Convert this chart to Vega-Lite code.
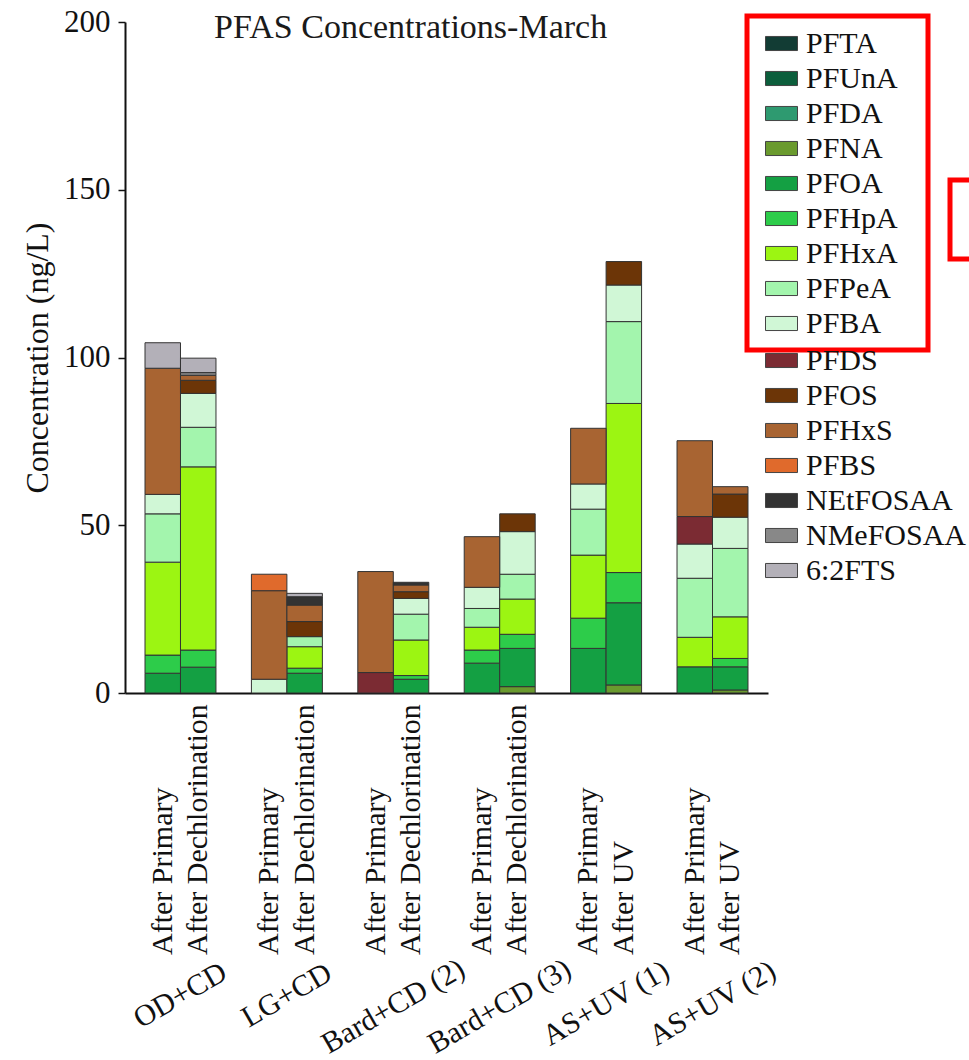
{
  "$schema": "https://vega.github.io/schema/vega-lite/v6.json",
  "autosize": "none",
  "width": 643,
  "height": 671,
  "padding": {"left": 125, "top": 22, "right": 201, "bottom": 367},
  "background": "white",
  "title": {"text": "PFAS Concentrations-March", "frame": "group", "anchor": "start", "dx": 89, "offset": -66, "baseline": "alphabetic", "font": "Liberation Serif", "fontSize": 34, "fontWeight": "normal", "color": "#1a1a1a"},
  "datasets": {
    "species": [
      {"species": "PFTA", "rank": 1, "group": "A"},
      {"species": "PFUnA", "rank": 2, "group": "A"},
      {"species": "PFDA", "rank": 3, "group": "A"},
      {"species": "PFNA", "rank": 4, "group": "A"},
      {"species": "PFOA", "rank": 5, "group": "A"},
      {"species": "PFHpA", "rank": 6, "group": "A"},
      {"species": "PFHxA", "rank": 7, "group": "A"},
      {"species": "PFPeA", "rank": 8, "group": "A"},
      {"species": "PFBA", "rank": 9, "group": "A"},
      {"species": "PFDS", "rank": 10, "group": "B"},
      {"species": "PFOS", "rank": 11, "group": "B"},
      {"species": "PFHxS", "rank": 12, "group": "B"},
      {"species": "PFBS", "rank": 13, "group": "B"},
      {"species": "NEtFOSAA", "rank": 14, "group": "B"},
      {"species": "NMeFOSAA", "rank": 15, "group": "B"},
      {"species": "6:2FTS", "rank": 16, "group": "B"}
    ],
    "stages": [
      {"site": "OD+CD", "phase": "Primary", "stage": "After Primary"},
      {"site": "OD+CD", "phase": "Treated", "stage": "After Dechlorination"},
      {"site": "LG+CD", "phase": "Primary", "stage": "After Primary"},
      {"site": "LG+CD", "phase": "Treated", "stage": "After Dechlorination"},
      {"site": "Bard+CD (2)", "phase": "Primary", "stage": "After Primary"},
      {"site": "Bard+CD (2)", "phase": "Treated", "stage": "After Dechlorination"},
      {"site": "Bard+CD (3)", "phase": "Primary", "stage": "After Primary"},
      {"site": "Bard+CD (3)", "phase": "Treated", "stage": "After Dechlorination"},
      {"site": "AS+UV (1)", "phase": "Primary", "stage": "After Primary"},
      {"site": "AS+UV (1)", "phase": "Treated", "stage": "After UV"},
      {"site": "AS+UV (2)", "phase": "Primary", "stage": "After Primary"},
      {"site": "AS+UV (2)", "phase": "Treated", "stage": "After UV"}
    ],
    "conc": [
      {"site": "OD+CD", "phase": "Primary", "species": "PFOA", "value": 5.9},
      {"site": "OD+CD", "phase": "Primary", "species": "PFHpA", "value": 5.4},
      {"site": "OD+CD", "phase": "Primary", "species": "PFHxA", "value": 27.7},
      {"site": "OD+CD", "phase": "Primary", "species": "PFPeA", "value": 14.4},
      {"site": "OD+CD", "phase": "Primary", "species": "PFBA", "value": 5.8},
      {"site": "OD+CD", "phase": "Primary", "species": "PFHxS", "value": 37.6},
      {"site": "OD+CD", "phase": "Primary", "species": "6:2FTS", "value": 7.6},
      {"site": "OD+CD", "phase": "Treated", "species": "PFOA", "value": 7.7},
      {"site": "OD+CD", "phase": "Treated", "species": "PFHpA", "value": 5.1},
      {"site": "OD+CD", "phase": "Treated", "species": "PFHxA", "value": 54.6},
      {"site": "OD+CD", "phase": "Treated", "species": "PFPeA", "value": 11.8},
      {"site": "OD+CD", "phase": "Treated", "species": "PFBA", "value": 10.1},
      {"site": "OD+CD", "phase": "Treated", "species": "PFOS", "value": 3.9},
      {"site": "OD+CD", "phase": "Treated", "species": "PFHxS", "value": 1.5},
      {"site": "OD+CD", "phase": "Treated", "species": "NMeFOSAA", "value": 0.8},
      {"site": "OD+CD", "phase": "Treated", "species": "6:2FTS", "value": 4.3},
      {"site": "LG+CD", "phase": "Primary", "species": "PFBA", "value": 4.1},
      {"site": "LG+CD", "phase": "Primary", "species": "PFHxS", "value": 26.4},
      {"site": "LG+CD", "phase": "Primary", "species": "PFBS", "value": 4.9},
      {"site": "LG+CD", "phase": "Treated", "species": "PFOA", "value": 5.9},
      {"site": "LG+CD", "phase": "Treated", "species": "PFHpA", "value": 1.5},
      {"site": "LG+CD", "phase": "Treated", "species": "PFHxA", "value": 6.4},
      {"site": "LG+CD", "phase": "Treated", "species": "PFPeA", "value": 3.0},
      {"site": "LG+CD", "phase": "Treated", "species": "PFOS", "value": 4.5},
      {"site": "LG+CD", "phase": "Treated", "species": "PFHxS", "value": 4.9},
      {"site": "LG+CD", "phase": "Treated", "species": "NEtFOSAA", "value": 2.5},
      {"site": "LG+CD", "phase": "Treated", "species": "6:2FTS", "value": 1.0},
      {"site": "Bard+CD (2)", "phase": "Primary", "species": "PFDS", "value": 6.1},
      {"site": "Bard+CD (2)", "phase": "Primary", "species": "PFHxS", "value": 30.1},
      {"site": "Bard+CD (2)", "phase": "Treated", "species": "PFOA", "value": 4.1},
      {"site": "Bard+CD (2)", "phase": "Treated", "species": "PFHpA", "value": 1.1},
      {"site": "Bard+CD (2)", "phase": "Treated", "species": "PFHxA", "value": 10.6},
      {"site": "Bard+CD (2)", "phase": "Treated", "species": "PFPeA", "value": 7.7},
      {"site": "Bard+CD (2)", "phase": "Treated", "species": "PFBA", "value": 4.7},
      {"site": "Bard+CD (2)", "phase": "Treated", "species": "PFOS", "value": 2.0},
      {"site": "Bard+CD (2)", "phase": "Treated", "species": "PFHxS", "value": 2.0},
      {"site": "Bard+CD (2)", "phase": "Treated", "species": "NEtFOSAA", "value": 0.8},
      {"site": "Bard+CD (3)", "phase": "Primary", "species": "PFOA", "value": 8.9},
      {"site": "Bard+CD (3)", "phase": "Primary", "species": "PFHpA", "value": 3.9},
      {"site": "Bard+CD (3)", "phase": "Primary", "species": "PFHxA", "value": 6.8},
      {"site": "Bard+CD (3)", "phase": "Primary", "species": "PFPeA", "value": 5.6},
      {"site": "Bard+CD (3)", "phase": "Primary", "species": "PFBA", "value": 6.3},
      {"site": "Bard+CD (3)", "phase": "Primary", "species": "PFHxS", "value": 15.1},
      {"site": "Bard+CD (3)", "phase": "Treated", "species": "PFNA", "value": 1.9},
      {"site": "Bard+CD (3)", "phase": "Treated", "species": "PFOA", "value": 11.4},
      {"site": "Bard+CD (3)", "phase": "Treated", "species": "PFHpA", "value": 4.2},
      {"site": "Bard+CD (3)", "phase": "Treated", "species": "PFHxA", "value": 10.5},
      {"site": "Bard+CD (3)", "phase": "Treated", "species": "PFPeA", "value": 7.4},
      {"site": "Bard+CD (3)", "phase": "Treated", "species": "PFBA", "value": 12.7},
      {"site": "Bard+CD (3)", "phase": "Treated", "species": "PFOS", "value": 5.3},
      {"site": "AS+UV (1)", "phase": "Primary", "species": "PFOA", "value": 13.3},
      {"site": "AS+UV (1)", "phase": "Primary", "species": "PFHpA", "value": 9.0},
      {"site": "AS+UV (1)", "phase": "Primary", "species": "PFHxA", "value": 18.8},
      {"site": "AS+UV (1)", "phase": "Primary", "species": "PFPeA", "value": 13.7},
      {"site": "AS+UV (1)", "phase": "Primary", "species": "PFBA", "value": 7.5},
      {"site": "AS+UV (1)", "phase": "Primary", "species": "PFHxS", "value": 16.6},
      {"site": "AS+UV (1)", "phase": "Treated", "species": "PFNA", "value": 2.4},
      {"site": "AS+UV (1)", "phase": "Treated", "species": "PFOA", "value": 24.5},
      {"site": "AS+UV (1)", "phase": "Treated", "species": "PFHpA", "value": 9.0},
      {"site": "AS+UV (1)", "phase": "Treated", "species": "PFHxA", "value": 50.4},
      {"site": "AS+UV (1)", "phase": "Treated", "species": "PFPeA", "value": 24.4},
      {"site": "AS+UV (1)", "phase": "Treated", "species": "PFBA", "value": 10.9},
      {"site": "AS+UV (1)", "phase": "Treated", "species": "PFOS", "value": 7.0},
      {"site": "AS+UV (2)", "phase": "Primary", "species": "PFOA", "value": 7.8},
      {"site": "AS+UV (2)", "phase": "Primary", "species": "PFHxA", "value": 8.8},
      {"site": "AS+UV (2)", "phase": "Primary", "species": "PFPeA", "value": 17.6},
      {"site": "AS+UV (2)", "phase": "Primary", "species": "PFBA", "value": 10.2},
      {"site": "AS+UV (2)", "phase": "Primary", "species": "PFDS", "value": 8.2},
      {"site": "AS+UV (2)", "phase": "Primary", "species": "PFHxS", "value": 22.6},
      {"site": "AS+UV (2)", "phase": "Treated", "species": "PFNA", "value": 0.9},
      {"site": "AS+UV (2)", "phase": "Treated", "species": "PFOA", "value": 6.9},
      {"site": "AS+UV (2)", "phase": "Treated", "species": "PFHpA", "value": 2.5},
      {"site": "AS+UV (2)", "phase": "Treated", "species": "PFHxA", "value": 12.4},
      {"site": "AS+UV (2)", "phase": "Treated", "species": "PFPeA", "value": 20.4},
      {"site": "AS+UV (2)", "phase": "Treated", "species": "PFBA", "value": 9.3},
      {"site": "AS+UV (2)", "phase": "Treated", "species": "PFOS", "value": 6.9},
      {"site": "AS+UV (2)", "phase": "Treated", "species": "PFHxS", "value": 2.2}
    ],
    "marker": [
      {"site": "OD+CD", "phase": "Primary", "k": "box"}
    ]
  },
  "encoding": {
    "x": {
      "field": "site", "type": "nominal",
      "sort": ["OD+CD", "LG+CD", "Bard+CD (2)", "Bard+CD (3)", "AS+UV (1)", "AS+UV (2)"],
      "scale": {"paddingInner": 0.333, "paddingOuter": 0.188},
      "axis": {
        "title": null, "ticks": false, "tickSize": 0,
        "labelAngle": -30, "labelAlign": "center", "labelBaseline": "middle",
        "labelFontSize": 30, "labelColor": "#111", "labelOverlap": false, "labelBound": false, "labelLimit": 400,
        "labelPadding": {"condition": [{"test": "indexof(datum.label, 'Bard') >= 0", "value": 313}, {"test": "indexof(datum.label, 'AS') >= 0", "value": 310}], "value": 302},
        "domainColor": "#111", "domainWidth": 2
      }
    },
    "xOffset": {"field": "phase", "type": "nominal", "scale": {"domain": ["Primary", "Treated"], "paddingInner": 0, "paddingOuter": 0}}
  },
  "layer": [
    {
      "data": {"name": "conc"},
      "transform": [
        {"lookup": "species", "from": {"data": {"name": "species"}, "key": "species", "fields": ["rank", "group"]}},
        {"stack": "value", "groupby": ["site", "phase"], "sort": [{"field": "rank", "order": "ascending"}], "as": ["v0", "v1"]},
        {"filter": "datum.group === 'A'"}
      ],
      "mark": {"type": "bar", "stroke": "#333333", "strokeWidth": 1},
      "encoding": {
        "y": {
          "field": "v0", "type": "quantitative",
          "scale": {"domain": [0, 200], "nice": false},
          "axis": {"title": "Concentration (ng/L)", "values": [0, 50, 100, 150, 200], "grid": false, "tickSize": 7, "tickWidth": 1.5, "tickColor": "#111", "labelPadding": 8, "labelFontSize": 31, "labelColor": "#111", "domainColor": "#111", "domainWidth": 2, "titleFontSize": 32, "titleFontWeight": "normal", "titleColor": "#111", "titlePadding": 9}
        },
        "y2": {"field": "v1"},
        "color": {
          "field": "species", "type": "nominal",
          "scale": {"domain": ["PFTA", "PFUnA", "PFDA", "PFNA", "PFOA", "PFHpA", "PFHxA", "PFPeA", "PFBA"], "range": ["#123c34", "#0c5e3c", "#2e9a70", "#6a9a2e", "#14a043", "#2dcc4a", "#9cf512", "#a3f5ad", "#d0f7d6"]},
          "legend": {"title": "I", "titleOrient": "right", "titleOpacity": 0, "titleFontSize": 10, "titlePadding": 15, "orient": "none", "legendX": 622, "legendY": -6, "padding": 11, "symbolOffset": 7, "strokeColor": "#ff0000"}
        }
      }
    },
    {
      "data": {"name": "conc"},
      "transform": [
        {"lookup": "species", "from": {"data": {"name": "species"}, "key": "species", "fields": ["rank", "group"]}},
        {"stack": "value", "groupby": ["site", "phase"], "sort": [{"field": "rank", "order": "ascending"}], "as": ["v0", "v1"]},
        {"filter": "datum.group === 'B'"}
      ],
      "mark": {"type": "bar", "stroke": "#333333", "strokeWidth": 1},
      "encoding": {
        "y": {"field": "v0", "type": "quantitative"},
        "y2": {"field": "v1"},
        "color": {
          "field": "species", "type": "nominal",
          "scale": {"domain": ["PFDS", "PFOS", "PFHxS", "PFBS", "NEtFOSAA", "NMeFOSAA", "6:2FTS"], "range": ["#7b2b33", "#6c3507", "#a86432", "#e06a2c", "#333333", "#888888", "#b3b0b8"]},
          "legend": {"title": null, "orient": "none", "legendX": 640, "legendY": 322, "padding": 0}
        }
      }
    },
    {
      "data": {"name": "stages"},
      "mark": {"type": "text", "angle": 270, "align": "left", "baseline": "middle", "dx": -262, "fontSize": 30, "color": "#111"},
      "encoding": {
        "y": {"datum": 0, "type": "quantitative"},
        "text": {"field": "stage"}
      }
    },
    {
      "data": {"name": "marker"},
      "mark": {"type": "point", "opacity": 0},
      "encoding": {
        "shape": {"field": "k", "type": "nominal", "legend": {"title": null, "orient": "none", "legendX": 825, "legendY": 158, "padding": 10, "strokeColor": "#ff0000", "symbolType": "square", "symbolSize": 3364, "symbolOpacity": 0, "labelExpr": "''"}}
      }
    }
  ],
  "resolve": {"scale": {"color": "independent"}, "legend": {"color": "independent"}},
  "config": {
    "font": "Liberation Serif",
    "view": {"stroke": null},
    "legend": {
      "symbolType": "M-1,-0.44H1V0.44H-1Z",
      "symbolSize": 1024,
      "symbolStrokeColor": "#444444",
      "symbolStrokeWidth": 1,
      "labelFontSize": 30,
      "labelColor": "#111",
      "labelOffset": 8,
      "rowPadding": 3,
      "strokeWidth": 5,
      "labelLimit": 300
    }
  }
}
